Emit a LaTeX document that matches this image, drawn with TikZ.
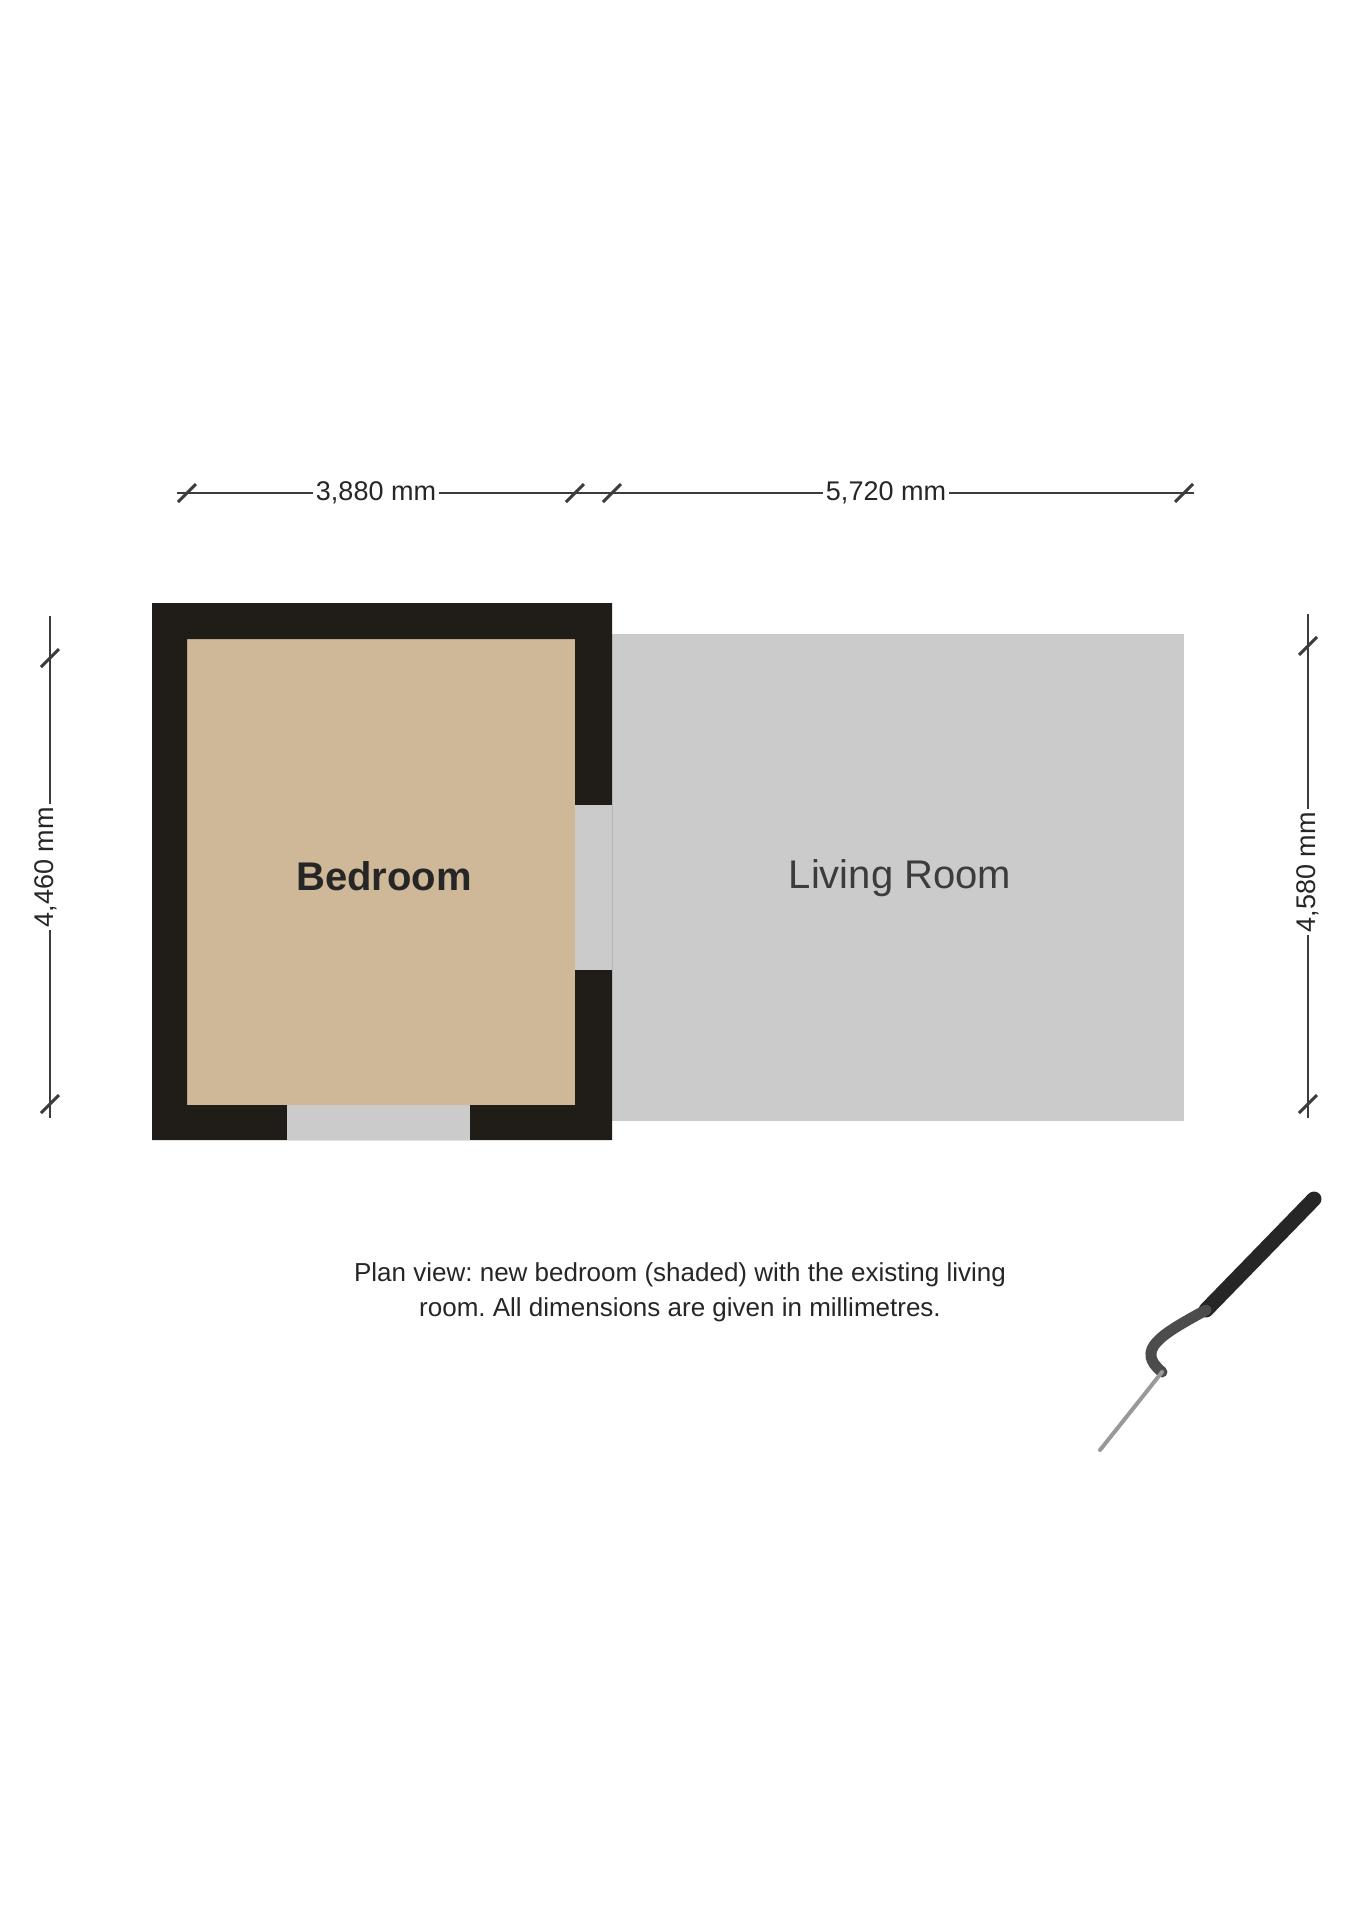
\documentclass[tikz,border=0pt]{standalone}
\usepackage{fontspec}
\setmainfont{Liberation Sans}
\frenchspacing
\definecolor{tanfill}{RGB}{206,184,152}
\definecolor{wallc}{RGB}{32,28,24}
\definecolor{roomgray}{RGB}{203,203,203}
\definecolor{inkc}{RGB}{38,38,38}
\definecolor{dimc}{RGB}{60,60,60}
\tikzset{
  dimline/.style={draw=dimc, line width=2.5pt},
  dimtick/.style={draw=dimc, line width=3pt},
  dimlabel/.style={fill=white, text=inkc, inner sep=3pt, font=\fontsize{27}{30}\selectfont},
  roomlabelbold/.style={text=inkc, font=\fontsize{40}{44}\selectfont\bfseries},
  roomlabel/.style={text=inkc!90!white, font=\fontsize{40}{44}\selectfont},
  captext/.style={text=inkc, align=center, font=\fontsize{26}{35}\selectfont},
  sigstroke/.style={line cap=round, line join=round}
}
\begin{document}
\begin{tikzpicture}[x=1pt,y=-1pt]
\fill[white] (0,0) rectangle (1358,1920);
\useasboundingbox (0,0) rectangle (1358,1920);

% gray room
\fill[roomgray] (612,634) rectangle (1184,1121);
% tan room interior
\fill[tanfill] (187,639) rectangle (575,1105);
% walls
\fill[wallc, even odd rule] (152,603) rectangle (612,1140) (187,639) rectangle (575,1105);
% openings
\fill[roomgray] (575,805) rectangle (612,970);
\fill[roomgray] (287,1105) rectangle (470,1140);

% room labels
\node[roomlabelbold] (bed) at (384,876) {Bedroom};
\node[roomlabel] (liv) at (900,878) {Living Room};

% top dimension chain
\coordinate (ta) at (177,493);
\coordinate (tb) at (1194,493);
\draw[dimline] (ta) -- (tb);
\foreach \x in {187,575,612,1184} \draw[dimtick] ({\x-9},502) -- ({\x+9},484);
\node[dimlabel] (tw1) at (376,493) {3,880 mm};
\node[dimlabel] (tw2) at (886,493) {5,720 mm};

% left dimension
\coordinate (la) at (50,616);
\coordinate (lb) at (50,1118);
\draw[dimline] (la) -- (lb);
\foreach \y in {658,1104} \draw[dimtick] (41,{\y+9}) -- (59,{\y-9});
\node[dimlabel, rotate=90] (lh) at (46,867) {4,460 mm};

% right dimension
\coordinate (ra) at (1308,614);
\coordinate (rb) at (1308,1118);
\draw[dimline] (ra) -- (rb);
\foreach \y in {646,1104} \draw[dimtick] (1299,{\y+9}) -- (1317,{\y-9});
\node[dimlabel, rotate=90] (rh) at (1308,872) {4,580 mm};

% caption
\node[captext] (cap) at (680,1292) {Plan view: new bedroom (shaded) with the existing living\\room. All dimensions are given in millimetres.};

% hand-drawn stroke
\coordinate (s1) at (1314,1199);
\coordinate (s2) at (1206,1310);
\coordinate (s4) at (1162,1372);
\coordinate (s6) at (1100,1450);
\draw[sigstroke, draw=black!85, line width=15pt] (s1) -- (s2);
\draw[sigstroke, draw=black!70, line width=11pt] (s2) .. controls (1160,1335) and (1135,1350) .. (s4);
\draw[sigstroke, draw=black!40, line width=4pt] (s4) .. controls (1140,1400) and (1120,1425) .. (s6);
\end{tikzpicture}
\end{document}
